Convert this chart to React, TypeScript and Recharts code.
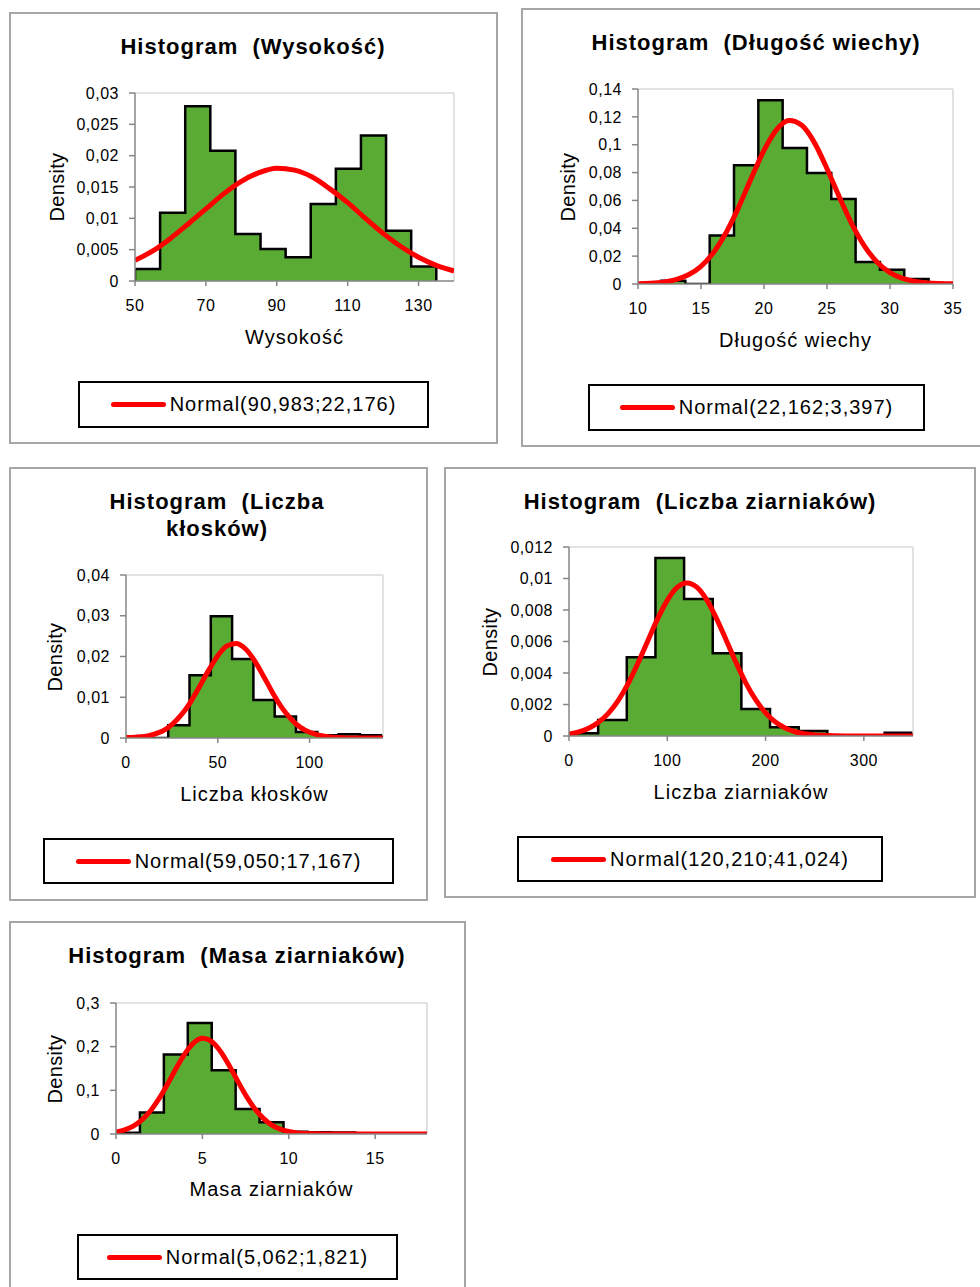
import { ComposedChart, Area, Line, XAxis, YAxis, ReferenceLine } from "recharts";

// Histogram (Wysokość)
const wysEdges = [50, 57.08, 64.17, 71.25, 78.33, 85.42, 92.5, 99.58, 106.67, 113.75, 120.83, 127.92, 135];
const wysDensity = [0.0019, 0.0109, 0.0279, 0.0208, 0.0075, 0.0051, 0.0038, 0.0123, 0.0179, 0.0232, 0.008, 0.0023];
const wysCurveX = [50, 55, 60, 65, 70, 75, 80, 85, 90, 95, 100, 105, 110, 115, 120, 125, 130, 135, 140];
const wysCurveY = [0.0033, 0.0048, 0.0068, 0.0091, 0.0115, 0.0139, 0.0159, 0.0173, 0.018, 0.0177, 0.0166, 0.0147, 0.0125, 0.01, 0.0076, 0.0055, 0.0038, 0.0025, 0.0016];
const wysXTicks = [50, 70, 90, 110, 130];
const wysYTicks = [0, 0.005, 0.01, 0.015, 0.02, 0.025, 0.03];

// Histogram (Długość wiechy)
const dlEdges = [11.83, 13.76, 15.69, 17.62, 19.55, 21.48, 23.41, 25.34, 27.27, 29.2, 31.13, 33.06];
const dlDensity = [0.0024, 0, 0.0349, 0.0852, 0.1319, 0.0976, 0.0797, 0.061, 0.0158, 0.0103, 0.0036];
const dlCurveX = [10, 11, 12, 13, 14, 15, 16, 17, 18, 19, 20, 21, 22, 23, 24, 25, 26, 27, 28, 29, 30, 31, 32, 33, 34, 35];
const dlCurveY = [0.0002, 0.0005, 0.0013, 0.0031, 0.0066, 0.0127, 0.0227, 0.037, 0.0554, 0.0762, 0.0959, 0.1108, 0.1173, 0.1139, 0.1015, 0.0828, 0.062, 0.0426, 0.0268, 0.0155, 0.0082, 0.004, 0.0018, 0.0007, 0.0003, 0.0001];
const dlXTicks = [10, 15, 20, 25, 30, 35];
const dlYTicks = [0, 0.02, 0.04, 0.06, 0.08, 0.1, 0.12, 0.14];

// Histogram (Liczba kłosków)
const klEdges = [11.4, 23, 34.6, 46.2, 57.8, 69.4, 81, 92.6, 104.2, 115.8, 127.4, 139];
const klDensity = [0, 0.0031, 0.0154, 0.0299, 0.0194, 0.0093, 0.0053, 0.0015, 0.0007, 0.0009, 0.0007];
const klCurveX = [0, 5, 10, 15, 20, 25, 30, 35, 40, 45, 50, 55, 60, 65, 70, 75, 80, 85, 90, 95, 100, 105, 110, 115, 120, 130, 140];
const klCurveY = [0.0001, 0.0002, 0.0004, 0.0009, 0.0017, 0.0033, 0.0056, 0.0087, 0.0126, 0.0166, 0.0202, 0.0226, 0.0232, 0.0219, 0.019, 0.0151, 0.011, 0.0074, 0.0046, 0.0026, 0.0014, 0.0007, 0.0003, 0.0001, 0, 0, 0];
const klXTicks = [0, 50, 100];
const klYTicks = [0, 0.01, 0.02, 0.03, 0.04];

// Histogram (Liczba ziarniaków)
const lzEdges = [0.5, 29.65, 58.8, 87.95, 117.1, 146.25, 175.4, 204.55, 233.7, 262.85, 292, 321.15, 350];
const lzDensity = [0.00017, 0.00102, 0.005, 0.0113, 0.0087, 0.00526, 0.00172, 0.00055, 0.00032, 0, 0, 0.00021];
const lzCurveX = [0, 10, 20, 30, 40, 50, 60, 70, 80, 90, 100, 110, 120, 130, 140, 150, 160, 170, 180, 190, 200, 210, 220, 230, 240, 250, 260, 280, 300, 350];
const lzCurveY = [0.00013, 0.00026, 0.00049, 0.00087, 0.00144, 0.00225, 0.00331, 0.0046, 0.00602, 0.00742, 0.00861, 0.00943, 0.00972, 0.00945, 0.00866, 0.00747, 0.00608, 0.00466, 0.00336, 0.00229, 0.00147, 0.00089, 0.00051, 0.00027, 0.00014, 0.00007, 0.00003, 0, 0, 0];
const lzXTicks = [0, 100, 200, 300];
const lzYTicks = [0, 0.002, 0.004, 0.006, 0.008, 0.01, 0.012];

// Histogram (Masa ziarniaków)
const mzEdges = [0, 1.385, 2.77, 4.155, 5.54, 6.925, 8.31, 9.695, 11.08, 12.465, 13.85, 15.235, 16.62];
const mzDensity = [0.003, 0.0495, 0.182, 0.254, 0.146, 0.057, 0.0267, 0.0053, 0.004, 0.0035, 0.002, 0.002];
const mzCurveX = [0, 0.5, 1, 1.5, 2, 2.5, 3, 3.5, 4, 4.5, 5, 5.5, 6, 6.5, 7, 7.5, 8, 8.5, 9, 9.5, 10, 10.5, 11, 11.5, 12, 14, 18];
const mzCurveY = [0.0046, 0.0095, 0.0182, 0.0323, 0.0533, 0.0814, 0.1154, 0.1516, 0.1848, 0.2089, 0.219, 0.2128, 0.1919, 0.1604, 0.1244, 0.0894, 0.0596, 0.0369, 0.0211, 0.0112, 0.0056, 0.0025, 0.0011, 0.0004, 0.0002, 0, 0];
const mzXTicks = [0, 5, 10, 15];
const mzYTicks = [0, 0.1, 0.2, 0.3];

const FONT = '"Liberation Sans", Arial, sans-serif';
const GREEN = "#5aab34";
const RED = "#ff0000";
const fmt = (v: number) => String(v).replace(".", ",");

type Rect = { left: number; top: number; width: number; height: number };

type PanelProps = {
  title: string;
  titleX: number;
  titleY: number;
  xLabel: string;
  xLabelY: number;
  densityX: number;
  legend: string;
  box: Rect;
  plot: Rect;
  legendBox: Rect;
  edges: number[];
  density: number[];
  curveX: number[];
  curveY: number[];
  xTicks: number[];
  yTicks: number[];
  xDomain: [number, number];
};

function buildRows(edges: number[], density: number[], curveX: number[], curveY: number[]) {
  const rows: { x: number; h?: number; pdf?: number; o: number }[] = [];
  rows.push({ x: edges[0], h: 0, o: 0 });
  edges.forEach((e, i) => rows.push({ x: e, h: i < density.length ? density[i] : 0, o: 1 }));
  curveX.forEach((x, i) => rows.push({ x, pdf: curveY[i], o: 2 }));
  return rows.sort((a, b) => a.x - b.x || a.o - b.o);
}

const tickStyle = { fill: "#000", fontSize: 16, fontFamily: FONT, letterSpacing: 0.5 };

function Panel(p: PanelProps) {
  const rows = buildRows(p.edges, p.density, p.curveX, p.curveY);
  const yMax = p.yTicks[p.yTicks.length - 1];
  const padL = 90;
  const padT = 10;
  const padR = 12;
  const axisH = 38;
  return (
    <>
      <div
        style={{
          position: "absolute",
          left: p.box.left,
          top: p.box.top,
          width: p.box.width,
          height: p.box.height,
          border: "2px solid #a6a6a6",
          boxSizing: "border-box",
          background: "#fff",
        }}
      />
      <div
        style={{
          position: "absolute",
          left: p.titleX - 250,
          width: 500,
          top: p.titleY - 14,
          textAlign: "center",
          fontFamily: FONT,
          fontWeight: "bold",
          fontSize: 22,
          letterSpacing: 1,
          lineHeight: "27px",
          whiteSpace: "pre",
          color: "#000",
        }}
      >
        {p.title}
      </div>
      <div
        style={{
          position: "absolute",
          left: p.plot.left - padL,
          top: p.plot.top - padT,
        }}
      >
        <ComposedChart
          width={p.plot.width + padL + padR}
          height={p.plot.height + padT + axisH}
          data={rows}
          margin={{ top: padT, right: padR, bottom: 0, left: 0 }}
        >
          <XAxis
            type="number"
            dataKey="x"
            domain={p.xDomain}
            ticks={p.xTicks}
            allowDataOverflow
            height={axisH}
            tickSize={5}
            tickMargin={14}
            tickFormatter={fmt}
            tick={tickStyle}
            axisLine={{ stroke: "#868686", strokeWidth: 1.5 }}
            tickLine={{ stroke: "#868686", strokeWidth: 1.5 }}
          />
          <YAxis
            type="number"
            domain={[0, yMax]}
            ticks={p.yTicks}
            allowDataOverflow
            width={padL}
            tickSize={6}
            tickMargin={10}
            tickFormatter={fmt}
            tick={tickStyle}
            axisLine={{ stroke: "#868686", strokeWidth: 1.5 }}
            tickLine={{ stroke: "#868686", strokeWidth: 1.5 }}
          />
          <ReferenceLine y={yMax} stroke="#d9d9d9" strokeWidth={1.5} />
          <ReferenceLine x={p.xDomain[1]} stroke="#d9d9d9" strokeWidth={1.5} />
          <Area
            type="stepAfter"
            dataKey="h"
            connectNulls
            fill={GREEN}
            fillOpacity={1}
            stroke="#000"
            strokeWidth={2.5}
            isAnimationActive={false}
          />
          <Line
            type="monotone"
            dataKey="pdf"
            connectNulls
            dot={false}
            stroke={RED}
            strokeWidth={5}
            isAnimationActive={false}
          />
        </ComposedChart>
      </div>
      <div
        style={{
          position: "absolute",
          left: p.densityX - 60,
          width: 120,
          top: p.plot.top + p.plot.height / 2 - 12,
          textAlign: "center",
          fontFamily: FONT,
          fontSize: 20,
          letterSpacing: 0.3,
          lineHeight: "24px",
          transform: "rotate(-90deg)",
          color: "#000",
        }}
      >
        Density
      </div>
      <div
        style={{
          position: "absolute",
          left: p.plot.left + p.plot.width / 2 - 150,
          width: 300,
          top: p.xLabelY - 12,
          textAlign: "center",
          fontFamily: FONT,
          fontSize: 20,
          letterSpacing: 1,
          lineHeight: "24px",
          color: "#000",
        }}
      >
        {p.xLabel}
      </div>
      <div
        style={{
          position: "absolute",
          left: p.legendBox.left,
          top: p.legendBox.top,
          width: p.legendBox.width,
          height: p.legendBox.height,
          border: "2px solid #000",
          boxSizing: "border-box",
          display: "flex",
          alignItems: "center",
          justifyContent: "center",
          fontFamily: FONT,
          fontSize: 20,
          letterSpacing: 1,
          color: "#000",
        }}
      >
        <span
          style={{
            display: "inline-block",
            width: 55,
            height: 5,
            borderRadius: 3,
            background: RED,
            marginRight: 4,
          }}
        />
        <span>{p.legend}</span>
      </div>
    </>
  );
}

export default function App() {
  return (
    <div style={{ position: "absolute", left: 0, top: 0, width: 980, height: 1287, background: "#fff", overflow: "hidden" }}>
      <Panel
        title={"Histogram  (Wysokość)"}
        titleX={253}
        titleY={47}
        xLabel="Wysokość"
        xLabelY={337}
        densityX={57}
        legend="Normal(90,983;22,176)"
        box={{ left: 9, top: 12, width: 489, height: 432 }}
        plot={{ left: 135, top: 93, width: 319, height: 188 }}
        legendBox={{ left: 78, top: 381, width: 351, height: 47 }}
        edges={wysEdges}
        density={wysDensity}
        curveX={wysCurveX}
        curveY={wysCurveY}
        xTicks={wysXTicks}
        yTicks={wysYTicks}
        xDomain={[50, 140]}
      />
      <Panel
        title={"Histogram  (Długość wiechy)"}
        titleX={756}
        titleY={43}
        xLabel="Długość wiechy"
        xLabelY={340}
        densityX={568}
        legend="Normal(22,162;3,397)"
        box={{ left: 521, top: 8, width: 470, height: 439 }}
        plot={{ left: 638, top: 89, width: 315, height: 195 }}
        legendBox={{ left: 588, top: 384, width: 337, height: 47 }}
        edges={dlEdges}
        density={dlDensity}
        curveX={dlCurveX}
        curveY={dlCurveY}
        xTicks={dlXTicks}
        yTicks={dlYTicks}
        xDomain={[10, 35]}
      />
      <Panel
        title={"Histogram  (Liczba\nkłosków)"}
        titleX={217}
        titleY={502}
        xLabel="Liczba kłosków"
        xLabelY={794}
        densityX={55}
        legend="Normal(59,050;17,167)"
        box={{ left: 9, top: 467, width: 419, height: 434 }}
        plot={{ left: 126, top: 575, width: 257, height: 163 }}
        legendBox={{ left: 43, top: 838, width: 351, height: 46 }}
        edges={klEdges}
        density={klDensity}
        curveX={klCurveX}
        curveY={klCurveY}
        xTicks={klXTicks}
        yTicks={klYTicks}
        xDomain={[0, 140]}
      />
      <Panel
        title={"Histogram  (Liczba ziarniaków)"}
        titleX={700}
        titleY={502}
        xLabel="Liczba ziarniaków"
        xLabelY={792}
        densityX={490}
        legend="Normal(120,210;41,024)"
        box={{ left: 444, top: 467, width: 532, height: 431 }}
        plot={{ left: 569, top: 547, width: 344, height: 189 }}
        legendBox={{ left: 517, top: 836, width: 366, height: 46 }}
        edges={lzEdges}
        density={lzDensity}
        curveX={lzCurveX}
        curveY={lzCurveY}
        xTicks={lzXTicks}
        yTicks={lzYTicks}
        xDomain={[0, 350]}
      />
      <Panel
        title={"Histogram  (Masa ziarniaków)"}
        titleX={237}
        titleY={956}
        xLabel="Masa ziarniaków"
        xLabelY={1189}
        densityX={55}
        legend="Normal(5,062;1,821)"
        box={{ left: 9, top: 921, width: 457, height: 380 }}
        plot={{ left: 116, top: 1003, width: 311, height: 131 }}
        legendBox={{ left: 77, top: 1234, width: 321, height: 46 }}
        edges={mzEdges}
        density={mzDensity}
        curveX={mzCurveX}
        curveY={mzCurveY}
        xTicks={mzXTicks}
        yTicks={mzYTicks}
        xDomain={[0, 18]}
      />
    </div>
  );
}
